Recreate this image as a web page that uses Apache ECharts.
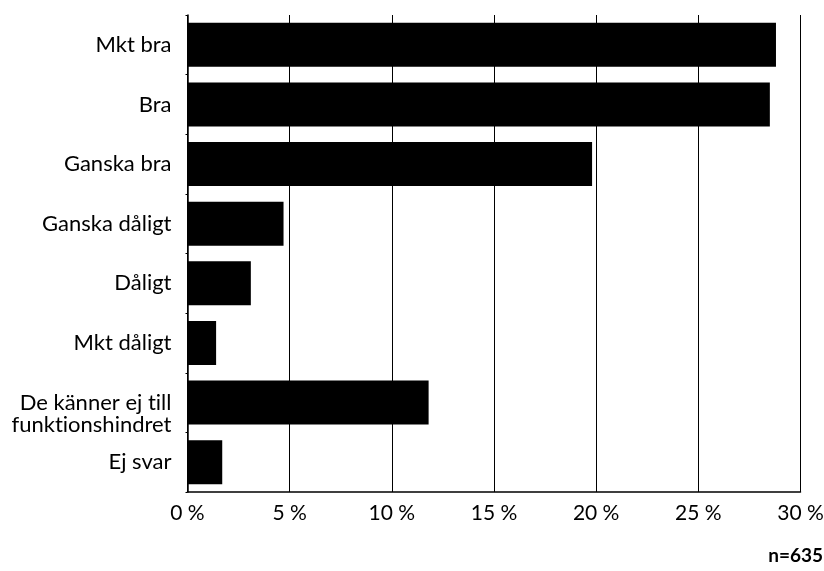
<!DOCTYPE html>
<html>
<head>
<meta charset="utf-8">
<script src="https://cdn.jsdelivr.net/npm/echarts@6/dist/echarts.min.js"></script>
<style>html,body{margin:0;padding:0;background:#fff}#c{width:824px;height:571px}</style>
</head>
<body>
<div id="c"></div>
<script>
var categories = ["Mkt bra", "Bra", "Ganska bra", "Ganska dåligt", "Dåligt", "Mkt dåligt", "De känner ej till\nfunktionshindret", "Ej svar"];
var values = [28.8, 28.5, 19.8, 4.7, 3.1, 1.4, 11.8, 1.7];
var tickLabels = ["0 %", "5 %", "10 %", "15 %", "20 %", "25 %", "30 %"];
var note = "n=635";

var FONT = "Lato";
var chart = echarts.init(document.getElementById('c'), null, {renderer: 'canvas'});
chart.setOption({
  animation: false,
  backgroundColor: '#fff',
  grid: {left: 187.5, right: 23.5, top: 15, bottom: 79, containLabel: false, outerBoundsMode: 'none'},
  xAxis: {
    type: 'value', min: 0, max: 30, interval: 5,
    axisLine: {show: true, lineStyle: {color: '#000', width: 1.5}},
    axisTick: {show: false},
    splitLine: {show: true, lineStyle: {color: '#000', width: 1}},
    axisLabel: {
      color: '#000', fontFamily: FONT, fontSize: 21, margin: 11,
      formatter: function (v) { return tickLabels[Math.round(v / 5)]; }
    }
  },
  yAxis: {
    type: 'category', inverse: true, data: categories,
    axisLine: {show: true, lineStyle: {color: '#000', width: 1.5}},
    axisTick: {show: true, length: 2, lineStyle: {color: '#000'}},
    splitLine: {show: false},
    axisLabel: {
      color: '#000', fontFamily: FONT, fontSize: 22, margin: 16, lineHeight: 22,
      formatter: function (v) {
        return v.indexOf('\n') >= 0 ? '\n' + v.replace('ti', 't\u200Ci').replace('ti', 't\u200Ci') : v;
      }
    }
  },
  series: [{
    type: 'bar', data: values, barCategoryGap: '26%',
    itemStyle: {color: '#000'}, silent: true
  }],
  graphic: [{
    type: 'text', right: 1, top: 546,
    style: {text: note, fill: '#000', font: 'bold 19px ' + FONT, textAlign: 'right'}
  }]
});
</script>
</body>
</html>
